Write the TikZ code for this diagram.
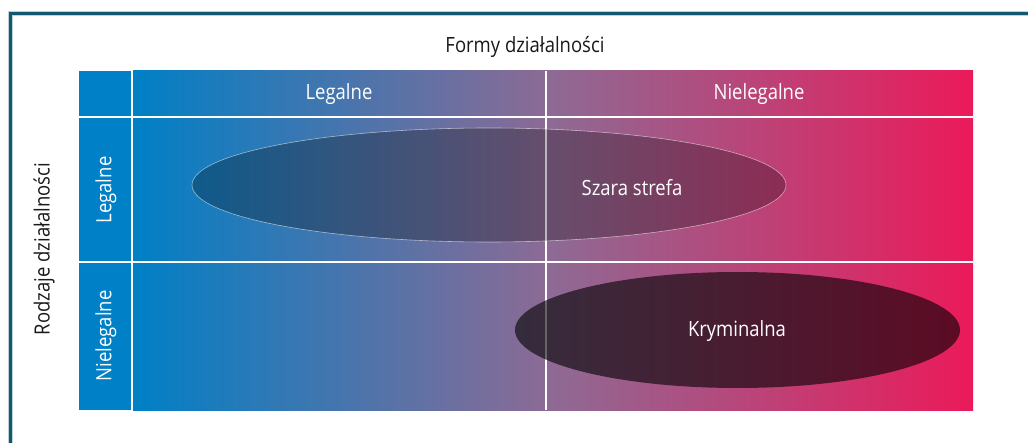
\documentclass[tikz,border=0pt]{standalone}
\usepackage{fontspec}
\setmainfont{Open Sans}[FakeStretch=0.88]
\usetikzlibrary{shapes.geometric}

\definecolor{cellblue}{RGB}{0,128,198}
\definecolor{cellmid}{RGB}{142,106,148}
\definecolor{cellpink}{RGB}{235,26,90}
\definecolor{framecol}{RGB}{18,88,110}
\definecolor{framehalo}{RGB}{190,210,216}
\definecolor{inktext}{RGB}{25,25,25}

% TikZ maps the 25bp..75bp band of a shading onto the shaded path
\pgfdeclarehorizontalshading{cellgrad}{100bp}{%
  color(0bp)=(cellblue); color(25bp)=(cellblue); color(50bp)=(cellmid);
  color(75bp)=(cellpink); color(100bp)=(cellpink)}

\tikzset{
  divider/.style={white, line width=2pt},
  headtext/.style={font=\fontsize{21}{24}\selectfont, text=white, inner sep=0pt},
  axistext/.style={font=\fontsize{21}{24}\selectfont, text=inktext, inner sep=0pt},
  zone/.style={ellipse, inner sep=0pt},
}

\begin{document}
\begin{tikzpicture}[x=1pt,y=-1pt]
\useasboundingbox (0,0) rectangle (1028,443);

% outer frame (top and left edges)
\draw[framehalo, line width=5pt] (10.5,443) -- (10.5,14) -- (1028,14);
\draw[framecol, line width=3pt] (10.5,443) -- (10.5,14) -- (1028,14);

% coloured grid
\fill[cellblue] (79,71) rectangle (133,410);
\shade[shading=cellgrad] (133,71) rectangle (973,410);

% white dividers
\draw[divider] (132,71) -- (132,410);
\draw[divider] (79,117) -- (973,117);
\draw[divider] (79,262) -- (973,262);
\draw[divider] (545.5,71) -- (545.5,410);

% zones
\node[zone, minimum width=594pt, minimum height=114pt,
      fill=black, fill opacity=0.27, draw=white, draw opacity=0.55, line width=0.6pt]
      (grey) at (489,185) {};
\node[zone, minimum width=445pt, minimum height=116pt,
      fill=black, fill opacity=0.6]
      (crime) at (737.5,330) {};

% labels
\node[axistext] (formy) at (525,47) {Formy działalności};
\node[axistext, rotate=90] (rodzaje) at (44,249) {Rodzaje działalności};
\node[headtext] (colleg) at (339,94) {Legalne};
\node[headtext] (colnielegal) at (759,94) {Nielegalne};
\node[headtext, rotate=90] (rowleg) at (106,190) {Legalne};
\node[headtext, rotate=90] (rownielegal) at (106,336) {Nielegalne};
\node[headtext] (greytext) at (632,188) {Szara strefa};
\node[headtext] (crimetext) at (737,331) {Kryminalna};
\end{tikzpicture}
\end{document}
